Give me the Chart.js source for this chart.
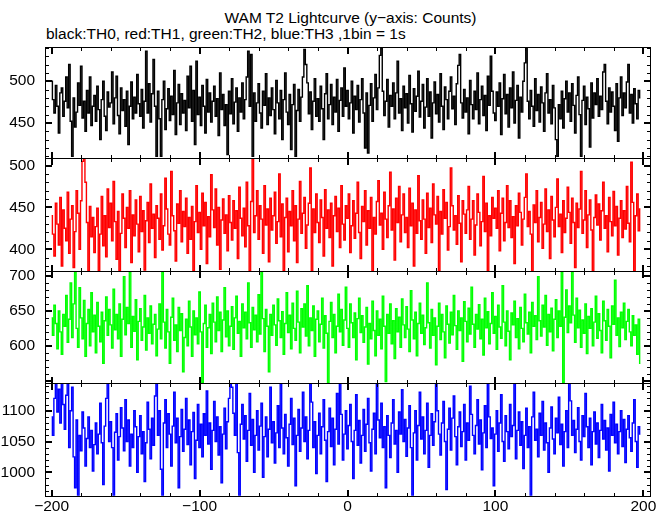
<!DOCTYPE html>
<html>
<head>
<meta charset="utf-8">
<script src="https://cdn.jsdelivr.net/npm/chart.js@4/dist/chart.umd.min.js"></script>
<style>
html,body{margin:0;padding:0;background:#fff;}
#wrap{position:relative;width:669px;height:515px;overflow:hidden;background:#fff;font-family:"Liberation Sans",Arial,Helvetica,sans-serif;color:#000;}
#wrap canvas{position:absolute;left:0;top:0;}
#title{position:absolute;left:0;top:9px;width:701px;text-align:center;font-size:15.5px;line-height:17px;white-space:nowrap;}
#subtitle{position:absolute;left:46px;top:25px;font-size:15.5px;line-height:17px;white-space:nowrap;}
</style>
</head>
<body>
<div id="wrap">
  <div id="title">WAM T2 Lightcurve (y&#8722;axis: Counts)</div>
  <div id="subtitle">black:TH0, red:TH1, green:TH2, blue:TH3 ,1bin = 1s</div>
  <canvas id="c0" width="669" height="515"></canvas>
  <canvas id="c1" width="669" height="515"></canvas>
  <canvas id="c2" width="669" height="515"></canvas>
  <canvas id="c3" width="669" height="515"></canvas>
</div>
<script>
// ---- data: 1 s bins starting at t = -200 s ----
const tStart = -200;
const binWidth = 1;

const seriesNames = ["TH0", "TH1", "TH2", "TH3"];

const th0 = [
500,478,462,495,470,438,486,492,458,476,
505,468,520,452,410,480,445,463,498,471,
518,456,476,440,489,462,505,447,470,483,
452,494,466,430,478,500,458,441,487,469,
474,511,449,480,506,459,437,492,465,478,
446,488,424,470,499,455,481,462,508,473,
458,490,444,476,536,462,497,451,485,526,
470,410,488,455,410,478,500,442,467,491,
453,482,460,513,436,474,496,448,485,462,
477,441,506,468,518,452,489,424,524,460,
481,447,495,470,438,502,463,486,451,476,
494,458,479,435,510,466,484,447,472,412,
488,461,503,449,475,492,440,480,463,498,
455,478,505,536,470,532,410,486,452,474,
497,462,444,488,471,509,448,480,459,492,
466,437,501,474,455,489,430,478,510,463,
448,484,418,472,496,410,465,490,452,481,
505,538,520,498,461,487,442,476,503,458,
479,452,494,467,430,485,509,455,472,496,
448,481,463,502,440,477,492,458,516,470,
489,455,474,500,438,482,466,495,451,478,
503,462,420,486,414,471,497,452,480,508,
466,492,531,540,488,459,476,502,445,483,
470,498,455,486,524,462,479,441,494,468,
485,450,507,473,439,491,464,482,512,457,
476,496,444,469,503,458,487,432,474,499,
461,484,451,509,470,442,493,478,455,488,
505,467,482,448,497,519,532,474,456,490,
463,480,437,501,472,455,488,466,510,449,
478,494,459,483,441,506,471,530,488,462,
453,487,470,498,436,479,508,461,484,445,
492,468,511,450,477,495,432,481,463,500,
522,540,476,455,489,470,446,503,465,484,
451,493,474,440,486,509,462,478,449,495,
468,430,410,472,455,488,444,479,500,463,
486,452,497,471,438,483,505,460,410,477,
494,448,481,467,421,498,456,486,472,503,
458,482,466,511,520,476,449,492,463,487,
470,441,497,428,480,505,459,486,468,499,
520,462,484,450,491,473,455,489,480
];

const th1 = [
440,418,392,455,430,405,462,380,447,425,
410,468,395,436,452,378,421,470,443,400,
458,505,509,480,432,374,451,415,438,396,
427,449,374,418,463,404,440,391,472,426,
455,410,481,433,388,445,374,419,466,437,
402,450,425,470,384,441,416,459,430,397,
463,421,446,375,434,456,408,478,425,442,
390,452,437,412,466,399,428,485,448,418,
405,493,440,422,386,454,431,470,409,445,
427,461,395,438,412,451,374,433,476,420,
444,400,467,428,456,383,439,415,489,447,
426,472,405,450,376,435,460,419,441,398,
464,432,411,458,425,446,389,474,437,416,
449,403,480,428,374,457,509,420,440,470,
412,452,436,395,476,429,448,385,461,423,
440,468,407,433,490,415,454,374,438,461,
397,445,428,470,410,452,384,436,481,419,
443,462,401,429,455,497,374,448,420,466,
432,408,459,438,392,471,425,447,414,455,
380,440,463,421,449,402,476,430,411,452,
437,466,396,428,458,413,443,480,420,389,
451,433,470,405,446,425,462,374,438,418,
457,482,429,443,400,468,436,414,452,492,
423,448,387,461,432,475,409,441,466,420,
438,402,473,428,455,380,447,419,488,434,
412,459,436,395,467,426,449,408,478,441,
430,463,374,445,418,471,437,456,399,427,
497,452,423,440,406,464,431,385,458,442,
419,447,475,412,436,458,393,429,466,444,
404,433,487,421,455,374,440,416,462,437,
449,425,470,398,443,461,410,432,476,426,
458,414,439,383,452,428,467,444,405,436,
462,490,427,445,418,374,453,432,470,409,
438,456,401,430,472,421,447,389,463,435,
415,450,484,427,442,396,458,420,437,474,
444,407,461,432,378,455,426,448,493,419,
435,470,402,441,459,423,374,438,465,429,
454,411,446,480,425,440,397,462,433,416,
469,428,451,393,437,458,414,446,424,475,
431,409,504,456,374,440,466,422,448
];

const th2 = [
640,615,658,632,596,650,620,588,645,628,
672,605,638,690,612,660,706,625,598,683,
640,610,665,585,632,652,600,676,620,644,
590,662,628,606,648,575,636,670,615,652,
630,597,681,623,645,610,660,585,638,699,
616,655,632,706,598,642,621,666,580,635,
653,608,627,672,594,640,618,657,603,631,
645,586,624,660,610,706,634,597,652,620,
575,641,668,608,630,592,655,622,646,563,
612,638,600,664,627,585,650,616,640,603,
677,620,547,632,658,598,626,645,589,661,
634,606,670,622,648,592,637,683,613,650,
600,628,656,595,640,671,618,635,585,660,
626,648,610,690,633,598,655,623,644,606,
673,617,706,639,592,652,628,563,645,615,
658,630,601,667,636,612,649,588,632,676,
619,644,596,661,625,608,678,634,590,653,
627,660,614,686,600,640,622,657,585,638,
650,606,631,668,597,643,618,547,635,662,
612,645,590,628,674,620,652,601,637,684,
625,598,660,633,612,647,580,639,668,619,
643,605,627,655,574,632,610,664,622,586,
650,615,638,596,671,628,549,645,618,660,
603,636,582,653,620,641,598,667,630,612,
656,624,592,679,637,610,648,586,632,661,
618,644,602,626,690,633,597,652,615,640,
573,628,661,609,645,620,583,657,631,604,
648,616,672,629,595,650,622,640,578,663,
635,606,654,617,684,631,598,645,624,659,
610,638,587,668,626,649,603,632,676,618,
642,595,658,627,611,686,634,600,650,621,
580,647,630,664,612,639,596,655,625,606,
674,633,617,648,590,662,628,643,609,699,
636,614,658,627,672,601,645,620,654,593,
638,666,612,650,628,706,547,641,680,619,
657,633,706,644,605,668,626,651,598,637,
618,660,589,642,625,653,600,634,671,611,
646,622,590,664,636,608,652,628,583,657,
631,694,615,640,599,648,626,661,609,635,
652,620,600,643,615,630,588,638,575
];

const th3 = [
1090,1060,1120,1145,1098,1135,1080,1145,1110,1070,
1125,1145,1040,1100,1138,1025,975,1085,962,1060,
1035,1098,1072,1010,1055,1090,1040,1068,1002,1045,
1080,1030,1062,1112,1048,980,1075,1120,1145,1050,
1082,1040,962,1065,1095,1020,1058,1105,1072,1035,
1118,1050,1085,1010,1062,1040,1100,1074,1000,1058,
1092,1030,1066,985,1048,1114,1070,1022,1088,1044,
1124,1145,1060,1100,1005,962,1080,1118,1040,1095,
1062,1010,1075,1130,1048,1088,975,1058,1102,1034,
1070,1120,1045,1085,1012,1066,1097,990,1052,1110,
1040,1078,1025,1095,1060,1132,1046,1080,1005,1068,
1115,1050,1090,1028,1074,983,1062,1104,1038,1082,
1120,1145,1138,1096,1060,1145,1032,962,1078,1110,
1054,1092,1018,1068,1128,1044,1086,1000,1060,1100,
1036,1075,1112,992,1058,1090,1025,1070,1138,1048,
1082,1015,1064,1108,1040,1145,1072,1030,1094,1056,
1010,1078,1120,1045,1088,978,1060,1102,1034,1072,
1130,1050,1090,1022,1068,1145,1114,1040,1082,998,
1060,1096,1030,1074,1118,1052,985,1066,1104,1042,
1088,1012,1070,1128,1046,1145,1094,1020,1062,1100,
1038,1076,1110,1050,990,1068,1126,1044,1084,1015,
1060,1102,1034,1078,1120,1048,1002,1070,1096,1030,
1145,1085,1056,1112,1040,1074,975,1092,1060,1024,
1080,1118,1046,1068,1000,1098,1062,1134,1050,1086,
1026,1072,1108,1040,962,1064,1100,1020,1076,1130,
1054,1090,1030,1068,1112,1008,1060,1095,1044,1082,
1145,1100,1062,1028,1080,1115,1050,972,1070,1104,
1036,1088,1124,1058,1012,1074,1098,1042,1066,1110,
1020,1080,1052,1140,1094,1060,1030,1076,1118,1046,
1085,1004,1064,1108,1040,1145,1090,1055,1072,978,
1062,1100,1034,1080,1126,1050,1018,1092,1066,1038,
1110,1058,1076,1145,1022,1068,1098,1044,1082,1006,
1060,1104,1040,1074,962,1090,1130,1052,1070,1025,
1096,1060,1115,1036,1080,1048,1000,1072,1106,1054,
1030,1088,1064,1122,1045,1078,1010,1066,1100,1040,
1145,1116,1060,1084,1032,1070,1105,1050,1020,1092,
1058,1128,1074,1040,1088,1012,1066,1098,1046,1080,
1024,1068,1110,1054,1084,1036,1072,1002,1094,1060,
1114,1048,1078,1030,1066,1100,1042,1086,1016,1070,
1092,1056,1034,1080,1118,1050,1008,1074,1062
];

// tick labels
const xTickValues = [-200, -100, 0, 100, 200];
const yTickValues = [
  [450, 500],
  [400, 450, 500],
  [600, 650, 700],
  [1000, 1050, 1100]
];
const yRanges = [[408, 541], [374, 509], [547, 707], [962, 1145]];
const xRange = [-204.5, 204.5];
const colors = ["#000000", "#ff0000", "#00ff00", "#0000ff"];

// ---- layout (pixels) ----
const panelEdges = [47, 158, 271, 383, 496];
const W = 669, H = 515;
const plotLeft = 45, plotRight = 650;
const yMinorStep = 10, yMajorStep = 50, xMinorStep = 20, xMajorStep = 100;
const FONT = "'Liberation Sans', Arial, Helvetica, sans-serif";

Chart.defaults.font.family = FONT;
Chart.defaults.color = '#000';

function fmt(v) {
  return v < 0 ? '\u2212' + Math.abs(v) : String(v);
}

const framePlugin = {
  id: 'pgframe',
  afterDatasetsDraw(chart) {
    const { ctx, chartArea: a } = chart;
    const x = chart.scales.x, y = chart.scales.y;
    const L = Math.round(a.left), R = Math.round(a.right);
    const T = Math.round(a.top), B = Math.round(a.bottom);
    ctx.save();
    ctx.strokeStyle = '#000';
    ctx.lineWidth = 1;
    ctx.strokeRect(L + 0.5, T + 0.5, R - L, B - T);
    function seg(x1, y1, x2, y2, w) {
      ctx.lineWidth = w;
      ctx.beginPath();
      ctx.moveTo(x1, y1);
      ctx.lineTo(x2, y2);
      ctx.stroke();
    }
    // y ticks (inward, both sides)
    for (let v = Math.ceil(y.min / yMinorStep) * yMinorStep; v <= y.max; v += yMinorStep) {
      const major = v % yMajorStep === 0;
      const py = Math.round(y.getPixelForValue(v));
      const len = major ? 7 : 4;
      const w = major ? 2 : 1;
      const off = major ? 0 : 0.5;
      seg(L, py + off, L + len, py + off, w);
      seg(R + 1, py + off, R + 1 - len, py + off, w);
    }
    // x ticks (inward, top and bottom)
    for (let v = Math.ceil(x.min / xMinorStep) * xMinorStep; v <= x.max; v += xMinorStep) {
      const major = v % xMajorStep === 0;
      const px = Math.round(x.getPixelForValue(v));
      const len = major ? 7 : 4;
      const w = major ? 2 : 1;
      const off = major ? 0 : 0.5;
      seg(px + off, B + 1, px + off, B + 1 - len, w);
      seg(px + off, T, px + off, T + len, w);
    }
    ctx.restore();
  }
};

const allSeries = [th0, th1, th2, th3];

allSeries.forEach((vals, i) => {
  const isLast = i === allSeries.length - 1;
  const pts = vals.map((v, k) => ({ x: tStart + k * binWidth, y: v }));
  const top = panelEdges[i], bottom = panelEdges[i + 1];
  new Chart(document.getElementById('c' + i), {
    type: 'line',
    data: {
      datasets: [{
        label: seriesNames[i],
        data: pts,
        borderColor: colors[i],
        backgroundColor: colors[i],
        borderWidth: 1.4,
        pointRadius: 0,
        stepped: 'middle',
        fill: false,
        clip: 0
      }]
    },
    options: {
      responsive: false,
      animation: false,
      devicePixelRatio: 1,
      events: [],
      layout: {
        padding: { top: top, bottom: isLast ? 0 : H - bottom, left: 0, right: W - plotRight }
      },
      plugins: { legend: { display: false }, tooltip: { enabled: false }, title: { display: false } },
      scales: {
        x: {
          type: 'linear',
          min: xRange[0], max: xRange[1],
          display: isLast,
          grid: { display: false, drawTicks: false },
          border: { display: false },
          ticks: {
            autoSkip: false, maxRotation: 0, padding: 2,
            font: { size: 15.5, family: FONT },
            color: '#000',
            callback: (v) => fmt(v)
          },
          afterBuildTicks: (s) => { s.ticks = xTickValues.map(v => ({ value: v })); },
          afterFit: (s) => { s.height = isLast ? H - panelEdges[4] : 0; }
        },
        y: {
          type: 'linear',
          min: yRanges[i][0], max: yRanges[i][1],
          grid: { display: false, drawTicks: false },
          border: { display: false },
          ticks: {
            autoSkip: false, padding: 10, includeBounds: false,
            font: { size: 15.5, family: FONT },
            color: '#000',
            callback: (v) => fmt(v)
          },
          afterBuildTicks: (s) => { s.ticks = yTickValues[i].map(v => ({ value: v })); },
          afterFit: (s) => { s.width = plotLeft; }
        }
      }
    },
    plugins: [framePlugin]
  });
});
</script>
</body>
</html>
